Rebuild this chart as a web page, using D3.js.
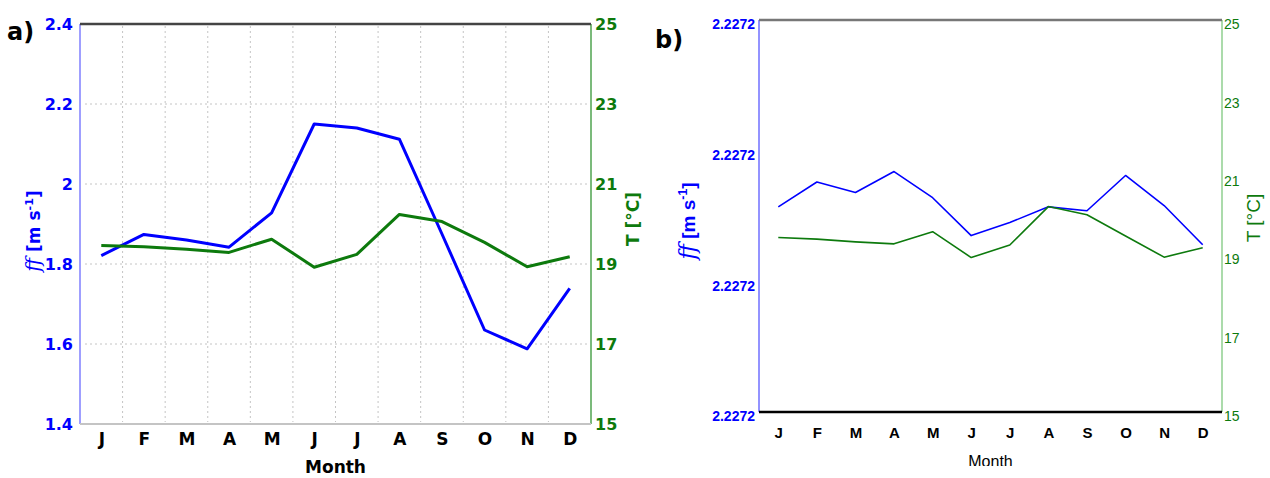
<!DOCTYPE html>
<html>
<head>
<meta charset="utf-8">
<script src="https://cdn.jsdelivr.net/npm/d3@7"></script>
<style>
  html, body { margin: 0; padding: 0; background: #fff; }
  svg { display: block; }
</style>
</head>
<body>
<svg id="chart" width="1270" height="478"></svg>
<script>
// Monthly wind speed (ff) and temperature (T), two panels.

const months = ['J', 'F', 'M', 'A', 'M', 'J', 'J', 'A', 'S', 'O', 'N', 'D'];

// panel a
const ffA = [1.821, 1.874, 1.86, 1.842, 1.928, 2.15, 2.14, 2.112, 1.875, 1.635, 1.588, 1.739];
const tA  = [19.46, 19.43, 19.37, 19.29, 19.62, 18.92, 19.24, 20.24, 20.06, 19.54, 18.93, 19.18];
const ffTicksA = [1.4, 1.6, 1.8, 2, 2.2, 2.4];

// panel b
const ffB = [2.2272157, 2.2272176, 2.2272168, 2.2272184, 2.2272164, 2.2272135,
             2.2272145, 2.2272157, 2.2272154, 2.2272181, 2.2272158, 2.2272128];
const tB  = [19.45, 19.41, 19.34, 19.29, 19.6, 18.94, 19.26, 20.24, 20.03, 19.49, 18.95, 19.19];
const ffTicksB = [2.22720, 2.22721, 2.22722, 2.22723];

const tTicks = [15, 17, 19, 21, 23, 25];

const BLUE = '#0000ff';
const GREEN = '#0d7a0d';

const svg = d3.select('#chart');

function ffLabel(g, x, y, opts) {
  const t = g.append('text')
    .attr('transform', `translate(${x},${y}) rotate(-90)`)
    .attr('text-anchor', 'middle')
    .attr('fill', BLUE)
    .attr('font-family', opts.family)
    .attr('font-weight', 'bold')
    .attr('font-size', opts.size);
  t.append('tspan').attr('font-family', 'DejaVu Serif').attr('font-style', 'italic')
    .attr('font-weight', 'normal').attr('font-size', opts.size * 1.15).text('ff');
  t.append('tspan').text(' [m s');
  t.append('tspan').attr('font-size', opts.size * 0.65).attr('dy', -opts.size * 0.4).text('-1');
  t.append('tspan').attr('dy', opts.size * 0.4).text(']');
}

function panel(cfg) {
  const g = svg.append('g');
  const x = d3.scaleLinear().domain([-0.5, 11.5]).range([cfg.L, cfg.R]);
  const yff = d3.scaleLinear().domain(d3.extent(cfg.ffTicks)).range([cfg.B, cfg.T]);
  const yt = d3.scaleLinear().domain([15, 25]).range([cfg.B, cfg.T]);

  if (cfg.grid) {
    const grid = g.append('g').attr('stroke', '#c4c4c4').attr('stroke-dasharray', '2,3').attr('stroke-width', 1);
    grid.selectAll('line.h').data(cfg.ffTicks.slice(1, -1)).join('line')
      .attr('x1', cfg.L + 5).attr('x2', cfg.R - 4)
      .attr('y1', (d) => yff(d)).attr('y2', (d) => yff(d));
    grid.selectAll('line.v').data(d3.range(11)).join('line')
      .attr('x1', (d) => x(d + 0.5)).attr('x2', (d) => x(d + 0.5))
      .attr('y1', cfg.T + 2).attr('y2', cfg.B - 2);
  }

  // frame
  g.append('line').attr('x1', cfg.L).attr('x2', cfg.L).attr('y1', cfg.T).attr('y2', cfg.B)
    .attr('stroke', cfg.leftCol).attr('stroke-width', 1.5);
  g.append('line').attr('x1', cfg.R).attr('x2', cfg.R).attr('y1', cfg.T).attr('y2', cfg.B)
    .attr('stroke', cfg.rightCol).attr('stroke-width', 1.5);
  g.append('line').attr('x1', cfg.L).attr('x2', cfg.R).attr('y1', cfg.T).attr('y2', cfg.T)
    .attr('stroke', cfg.topCol).attr('stroke-width', 2.5);
  g.append('line').attr('x1', cfg.L).attr('x2', cfg.R).attr('y1', cfg.B).attr('y2', cfg.B)
    .attr('stroke', cfg.botCol).attr('stroke-width', cfg.botW);

  // lines
  const lff = d3.line().x((d, i) => x(i)).y((d) => yff(d));
  const lt = d3.line().x((d, i) => x(i)).y((d) => yt(d));
  g.append('path').attr('d', lff(cfg.ff)).attr('fill', 'none').attr('stroke', BLUE)
    .attr('stroke-width', cfg.lw).attr('stroke-linejoin', 'round');
  g.append('path').attr('d', lt(cfg.t)).attr('fill', 'none').attr('stroke', GREEN)
    .attr('stroke-width', cfg.lw).attr('stroke-linejoin', 'round');

  // axes
  const left = g.append('g').attr('transform', `translate(${cfg.L},0)`)
    .call(d3.axisLeft(yff).tickValues(cfg.ffTicks).tickSize(0).tickPadding(cfg.padL).tickFormat(cfg.ffFmt));
  const right = g.append('g').attr('transform', `translate(${cfg.R},0)`)
    .call(d3.axisRight(yt).tickValues(tTicks).tickSize(0).tickPadding(cfg.padR));
  const bottom = g.append('g').attr('transform', `translate(0,${cfg.B})`)
    .call(d3.axisBottom(x).tickValues(d3.range(12)).tickSize(0).tickPadding(cfg.padB).tickFormat((i) => months[i]));
  [left, right, bottom].forEach((a) => {
    a.select('.domain').remove();
    a.selectAll('text').attr('font-family', cfg.family).attr('font-weight', 'bold');
  });
  left.selectAll('text').attr('fill', BLUE).attr('font-size', cfg.tickSize).attr('dy', cfg.tickDy);
  right.selectAll('text').attr('fill', GREEN).attr('font-size', cfg.tickSize).attr('dy', cfg.tickDy)
    .attr('font-weight', cfg.rightWeight);
  bottom.selectAll('text').attr('fill', '#000').attr('font-size', cfg.monthSize);

  // titles
  const mt = g.append('text').attr('x', (cfg.L + cfg.R) / 2).attr('y', cfg.monthY)
    .attr('text-anchor', 'middle').attr('font-family', cfg.family)
    .attr('font-weight', cfg.weight).attr('font-size', cfg.monthTitle).text('Month');
  if (cfg.clipMonth) {
    svg.append('clipPath').attr('id', 'clipb').append('rect')
      .attr('x', cfg.L).attr('y', 0).attr('width', cfg.R - cfg.L).attr('height', cfg.clipMonth);
    mt.attr('clip-path', 'url(#clipb)');
  }
  ffLabel(g, cfg.ffLabX, cfg.ffLabY, { family: cfg.family, size: cfg.titleSize });
  g.append('text').attr('transform', `translate(${cfg.tLabX},${cfg.tLabY}) rotate(-90)`)
    .attr('text-anchor', 'middle').attr('fill', GREEN).attr('font-family', cfg.family)
    .attr('font-weight', cfg.tLabWeight).attr('font-size', cfg.titleSize).text('T [°C]');
  g.append('text').attr('x', cfg.tagX).attr('y', cfg.tagY).attr('font-family', 'DejaVu Sans')
    .attr('font-weight', 'bold').attr('font-size', 24).text(cfg.tag);
}

panel({
  tag: 'a)', tagX: 7, tagY: 40,
  L: 80, R: 591, T: 24, B: 424,
  ff: ffA, t: tA, ffTicks: ffTicksA, ffFmt: (d) => String(d),
  grid: true, lw: 3,
  leftCol: '#7f7fff', rightCol: '#4fa34f', topCol: '#444', botCol: '#c4c4c4', botW: 2,
  family: 'DejaVu Sans', weight: 'bold', rightWeight: 'bold', tLabWeight: 'bold',
  tickSize: 16, tickDy: '0.32em', monthSize: 17, titleSize: 17, monthTitle: 17,
  padL: 7, padR: 4, padB: 9, monthY: 473,
  ffLabX: 40, ffLabY: 231, tLabX: 639, tLabY: 219
});

panel({
  tag: 'b)', tagX: 655, tagY: 48,
  L: 759, R: 1222, T: 20, B: 412,
  ff: ffB, t: tB, ffTicks: ffTicksB, ffFmt: d3.format('.4f'),
  grid: false, lw: 1.6,
  leftCol: '#6f6fff', rightCol: '#8fcf8f', topCol: '#777', botCol: '#000', botW: 2.5,
  family: 'Liberation Sans', weight: 'normal', rightWeight: 'normal', tLabWeight: 'normal',
  tickSize: 14, tickDy: '0.62em', monthSize: 15, titleSize: 19, monthTitle: 16,
  padL: 4, padR: 2, padB: 15, monthY: 467, clipMonth: 466,
  ffLabX: 695, ffLabY: 221, tLabX: 1260, tLabY: 218
});
</script>
</body>
</html>
